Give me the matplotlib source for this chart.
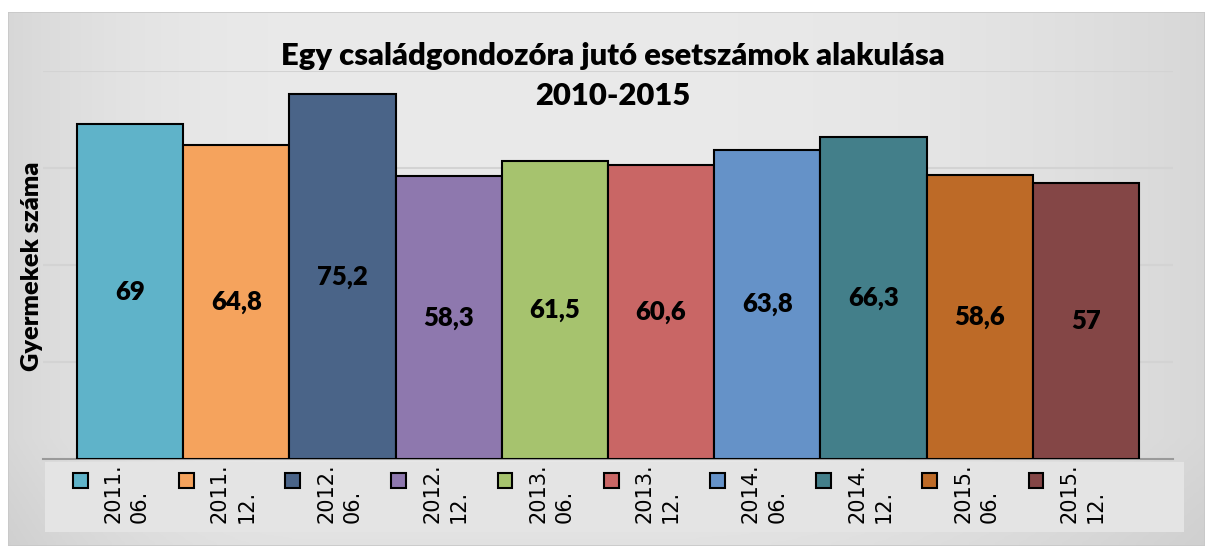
import numpy as np
import matplotlib
matplotlib.use("Agg")
import matplotlib.pyplot as plt
from matplotlib.patches import Rectangle
from matplotlib.transforms import blended_transform_factory

# data
periods = ["2011.\n06.", "2011.\n12.", "2012.\n06.", "2012.\n12.", "2013.\n06.",
           "2013.\n12.", "2014.\n06.", "2014.\n12.", "2015.\n06.", "2015.\n12."]
values = [69, 64.8, 75.2, 58.3, 61.5, 60.6, 63.8, 66.3, 58.6, 57]
value_labels = ["69", "64,8", "75,2", "58,3", "61,5", "60,6", "63,8", "66,3", "58,6", "57"]
colors = ["#5fb3c9", "#f5a35d", "#4a6488", "#8e78ae", "#a6c36e",
          "#c96665", "#6592c8", "#437f8a", "#bd6a27", "#844646"]

W, H = 1205, 546
fig = plt.figure(figsize=(W / 100, H / 100), dpi=100)
fig.patch.set_facecolor("white")

# gradient panel background
bg = fig.add_axes([8 / W, 0, 1 - 8 / W, 1 - 12 / H], zorder=0)
xx = np.linspace(0, 1, 400)
yy = np.linspace(0, 1, 100)
X, Y = np.meshgrid(xx, yy)
shade = 0.915 - 0.07 * np.clip((X - 0.55) / 0.45, 0, 1) ** 2 - 0.07 * np.clip((0.25 - X) / 0.25, 0, 1) ** 2 \
        - 0.03 * np.clip((Y - 0.8) / 0.2, 0, 1)
bg.imshow(np.dstack([shade] * 3), aspect="auto", extent=[0, 1, 0, 1], origin="upper")
bg.axis("off")
bg.add_patch(Rectangle((0, 0), 1, 1, fill=False, ec="#c8c8c8", lw=1.2, transform=bg.transAxes))

ax = fig.add_axes([43 / W, 1 - 459 / H, (1173 - 43) / W, (459 - 71) / H], zorder=1)
ax.patch.set_alpha(0)
x = np.arange(len(values))
ax.bar(x, values, width=1.0, color=colors, edgecolor="black", linewidth=1.5, zorder=3)
for xi, v, lab in zip(x, values, value_labels):
    ax.text(xi, v / 2, lab, ha="center", va="center", fontsize=18.5, fontweight="heavy",
            family="Lato", color="black", zorder=4)

ax.set_ylim(0, 80)
ax.set_xlim(-0.82, len(values) - 1 + 0.82)
ax.set_yticks([20, 40, 60, 80])
ax.yaxis.grid(True, color="#d3d3d3", lw=1.5)
ax.set_axisbelow(True)
ax.tick_params(left=False, bottom=False, labelleft=False, labelbottom=False)
for s in ["top", "right", "left"]:
    ax.spines[s].set_visible(False)
ax.spines["bottom"].set_color("#9a9a9a")
ax.spines["bottom"].set_linewidth(1.5)

fig.text(32 / W, 1 - 266 / H, "Gyermekek száma", rotation=90, ha="center", va="center",
         fontsize=18.3, fontweight="heavy", family="Lato")

fig.text(613 / W, 1 - 76 / H, "Egy családgondozóra jutó esetszámok alakulása\n2010-2015",
         ha="center", va="center", fontsize=22.3, fontweight="heavy", family="Lato", linespacing=1.5)

# legend strip under the bars
fig.add_artist(Rectangle((45 / W, 1 - 532 / H), (1184 - 45) / W, 70 / H, transform=fig.transFigure,
                         fc="#e4e4e4", ec="none", zorder=0.5))
tr = blended_transform_factory(ax.transData, fig.transFigure)
for xi, lab, c in zip(x, periods, colors):
    ax.add_patch(Rectangle((xi - 0.54, 1 - 488 / H), 0.14, 15 / H, transform=tr, fc=c,
                           ec="black", lw=1.5, clip_on=False, zorder=5))
    ax.text(xi - 0.03, 1 - 523 / H, lab, transform=tr, rotation=90, ha="center", va="bottom",
            multialignment="left", fontsize=15, linespacing=1.4, clip_on=False)

fig.savefig("out.png", dpi=100)
